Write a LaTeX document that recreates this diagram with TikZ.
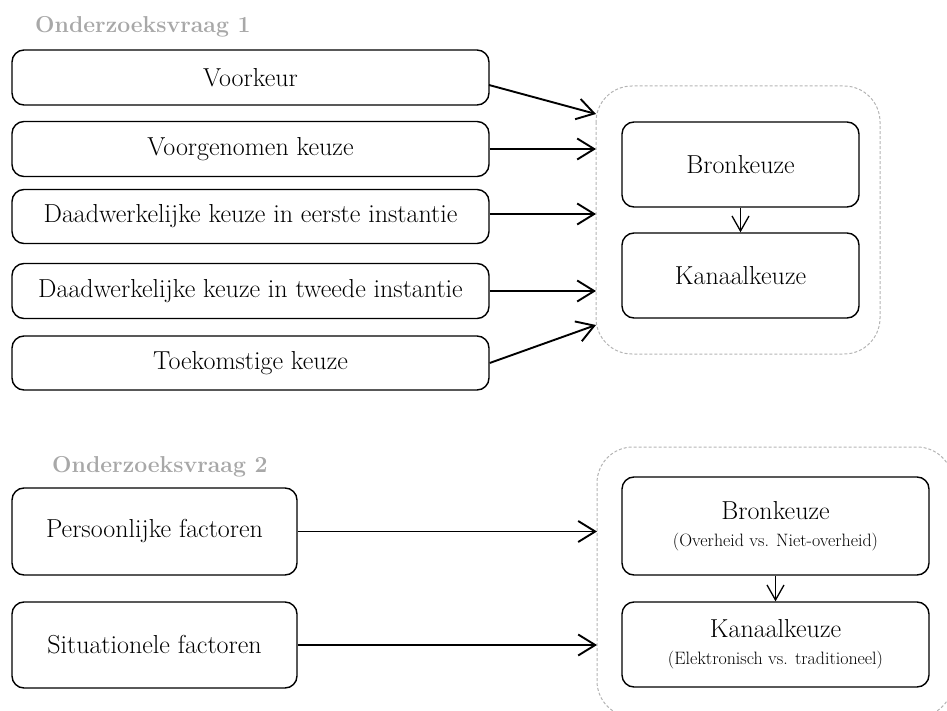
\documentclass[tikz,border=0pt]{standalone}
\usepackage{fontspec}
\usetikzlibrary{arrows.meta}
\definecolor{titlegray}{HTML}{A8A8A8}
\definecolor{dashgray}{HTML}{B4B4B4}
\newcommand{\mainsize}{\fontsize{26}{30}\selectfont}
\newcommand{\smallsize}{\fontsize{17.9}{21}\selectfont}
\begin{document}
\begin{tikzpicture}[x=1pt,y=-1pt,
  box/.style={draw=black, line width=1.4pt, rounded corners=12pt, fill=white,
    inner sep=0pt, align=center, font=\mainsize},
  group/.style={draw=dashgray, line width=1pt, dash pattern=on 3pt off 2pt,
    rounded corners=36pt},
  heading/.style={anchor=base west, text=titlegray, font=\fontsize{23}{27}\selectfont\bfseries, inner sep=0pt},
  link/.style={line width=1.9pt, -{Straight Barb[length=17pt,width=21pt,line width=1.9pt]}},
  flow/.style={line width=1.3pt, -{Straight Barb[length=15pt,width=17pt,line width=1.3pt]}}
]
\useasboundingbox (0,0) rectangle (947,711);

% ---- research question 1 ----
\node[heading] (t1) at (35,33) {Onderzoeksvraag 1};

\node[box, minimum width=477pt, minimum height=55pt] (v1) at (250.5,77.5) {Voorkeur};
\node[box, minimum width=477pt, minimum height=55pt] (v2) at (250.5,149) {Voorgenomen keuze};
\node[box, minimum width=477pt, minimum height=54pt] (v3) at (250.5,216.5) {Daadwerkelijke keuze in eerste instantie};
\node[box, minimum width=477pt, minimum height=55pt] (v4) at (250.5,291) {Daadwerkelijke keuze in tweede instantie};
\node[box, minimum width=477pt, minimum height=54pt] (v5) at (250.5,363) {Toekomstige keuze};

\draw[group] (596,86) rectangle (880,354);
\node[box, minimum width=237pt, minimum height=85pt] (b1) at (740.5,164.5) {Bronkeuze};
\node[box, minimum width=237pt, minimum height=85pt] (k1) at (740.5,275.5) {Kanaalkeuze};

\coordinate (s1) at (489,85);
\coordinate (e1) at (596,114);
\coordinate (e2) at (596,149);
\coordinate (e3) at (596,214);
\coordinate (e4) at (596,291);
\coordinate (e5) at (596,325);

\draw[link] (s1) -- (e1);
\draw[link] (v2.east) -- (e2);
\draw[link] (v3.east |- e3) -- (e3);
\draw[link] (v4.east) -- (e4);
\draw[link] (v5.east) -- (e5);
\draw[flow] (b1) -- (k1);

% ---- research question 2 ----
\node[heading] (t2) at (52,472) {Onderzoeksvraag 2};

\node[box, minimum width=285pt, minimum height=87pt] (p) at (154.5,531.5) {Persoonlijke factoren};
\node[box, minimum width=285pt, minimum height=86pt] (s) at (154.5,645) {Situationele factoren};

\draw[group] (597,447) rectangle (953,717);
\node[box, minimum width=307pt, minimum height=98pt] (b2) at (775.5,526)
  {Bronkeuze\\[-3pt]{\smallsize (Overheid vs. Niet-overheid)}};
\node[box, minimum width=307pt, minimum height=85pt] (k2) at (775.5,644.5)
  {Kanaalkeuze\\[-3pt]{\smallsize (Elektronisch vs. traditioneel)}};

\coordinate (e6) at (597,531.5);
\coordinate (e7) at (597,645);
\draw[link] (p.east) -- (e6);
\draw[link] (s.east) -- (e7);
\draw[flow] (b2) -- (k2);
\end{tikzpicture}
\end{document}
